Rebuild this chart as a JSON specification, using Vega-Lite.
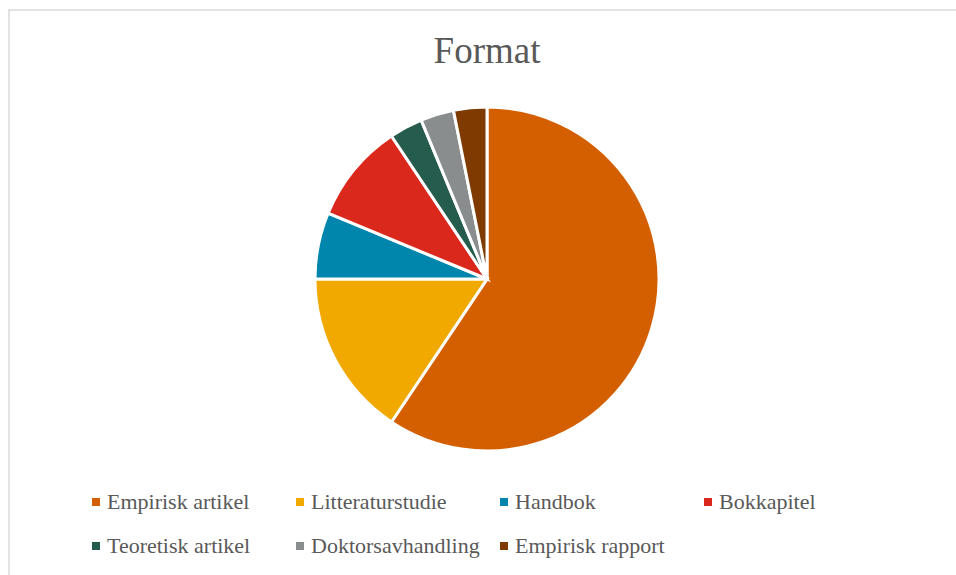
{
  "$schema": "https://vega.github.io/schema/vega-lite/v6.json",
  "width": 952,
  "height": 570,
  "autosize": {"type": "none"},
  "padding": {"left": 9, "top": 10, "right": -5, "bottom": -5},
  "background": "white",
  "view": {"stroke": "#D9D9D9", "strokeWidth": 1.5},
  "title": {
    "text": "Format",
    "font": "Liberation Serif, DejaVu Serif, serif",
    "fontSize": 37,
    "fontWeight": "normal",
    "color": "#595959",
    "anchor": "middle",
    "frame": "group",
    "baseline": "alphabetic",
    "offset": 0,
    "dx": 2,
    "dy": 90
  },
  "data": {
    "values": [
      {"format": "Empirisk artikel", "count": 19, "order": 1},
      {"format": "Litteraturstudie", "count": 5, "order": 2},
      {"format": "Handbok", "count": 2, "order": 3},
      {"format": "Bokkapitel", "count": 3, "order": 4},
      {"format": "Teoretisk artikel", "count": 1, "order": 5},
      {"format": "Doktorsavhandling", "count": 1, "order": 6},
      {"format": "Empirisk rapport", "count": 1, "order": 7}
    ]
  },
  "mark": {
    "type": "arc",
    "outerRadius": 172,
    "stroke": "white",
    "strokeWidth": 3,
    "xOffset": 2,
    "yOffset": -16
  },
  "encoding": {
    "theta": {"field": "count", "type": "quantitative", "stack": true},
    "order": {"field": "order", "type": "quantitative"},
    "color": {
      "field": "format",
      "type": "nominal",
      "scale": {
        "domain": ["Empirisk artikel", "Litteraturstudie", "Handbok", "Bokkapitel", "Teoretisk artikel", "Doktorsavhandling", "Empirisk rapport"],
        "range": ["#D45F00", "#F1A900", "#0085AC", "#DA291C", "#265C4D", "#898D8D", "#7F3A00"]
      },
      "legend": {
        "title": null,
        "orient": "none",
        "legendX": 76,
        "legendY": 481,
        "direction": "horizontal",
        "columns": 4,
        "gridAlign": "all",
        "columnPadding": 13,
        "rowPadding": 22,
        "padding": 0,
        "symbolType": "square",
        "symbolSize": 64,
        "symbolStrokeWidth": 0,
        "labelFont": "Liberation Serif",
        "labelFontSize": 22,
        "labelColor": "#595959",
        "labelOffset": 0,
        "labelLimit": 0
      }
    }
  },
  "config": {
    "font": "Liberation Serif",
    "view": {"stroke": "#D9D9D9", "strokeWidth": 1.5},
    "legend": {"labelFont": "Liberation Serif"}
  }
}
